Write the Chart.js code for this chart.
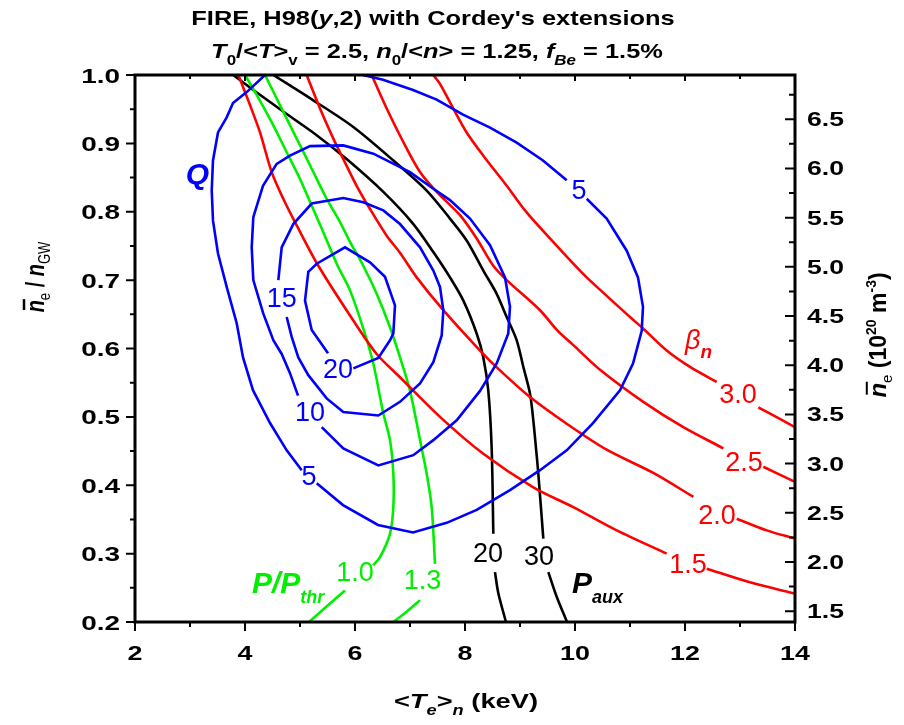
<!DOCTYPE html>
<html><head><meta charset="utf-8">
<script src="https://cdn.jsdelivr.net/npm/chart.js@4/dist/chart.umd.min.js"></script>
<style>html,body{margin:0;padding:0;background:#fff;}#wrap{width:904px;height:725px;}</style>
</head><body><div id="wrap"><canvas id="c" width="904" height="725"></canvas></div>
<script>
const FONT = "'Liberation Sans', Arial, Helvetica, sans-serif";
const BLUE = '#0000ff', RED = '#ff0000', GREEN = '#00ee00', BLACK = '#000000';

// ----- axes -----
const xMin = 2, xMax = 14;
const yMin = 0.2, yMax = 1.0;
const nGW = 6.95; // density (1e20 m^-3) at ne/nGW = 1
const xTicks = [2, 4, 6, 8, 10, 12, 14];
const yTicks = [0.2, 0.3, 0.4, 0.5, 0.6, 0.7, 0.8, 0.9, 1.0];
const y2Ticks = [1.5, 2.0, 2.5, 3.0, 3.5, 4.0, 4.5, 5.0, 5.5, 6.0, 6.5];

// ----- Q contours (x = <Te>_n keV, y = ne/nGW); null = label gap -----
const Q5 = [[6.145,1.0],[6.509,0.993],[7.055,0.978],[7.485,0.964],[7.964,0.942],[8.455,0.923],[8.94,0.901],[9.418,0.875],[9.849,0.846],null,
  [10.213,0.819],[10.576,0.790],[10.94,0.743],[11.145,0.704],[11.236,0.661],[11.213,0.626],[11.055,0.578],[10.818,0.539],[10.327,0.491],[9.849,0.451],[9.364,0.422],[8.818,0.393],[8.213,0.364],[7.667,0.345],[7.055,0.331],[6.418,0.342],[5.782,0.371],[5.304,0.403],null,
  [5.031,0.422],[4.758,0.451],[4.455,0.491],[4.145,0.539],[3.964,0.587],[3.849,0.637],[3.667,0.690],[3.509,0.739],[3.418,0.787],[3.395,0.831],[3.418,0.875],[3.509,0.916],[3.667,0.938],[3.782,0.959],[4.031,0.975],[4.364,1.0]];
const Q10 = [[4.964,0.531],[4.818,0.564],[4.667,0.592],[4.515,0.612],[4.333,0.651],[4.151,0.700],[4.122,0.748],[4.151,0.792],[4.327,0.838],[4.576,0.870],[4.818,0.882],[5.182,0.896],[5.787,0.897],[6.333,0.885],[7.0,0.858],[7.418,0.834],[7.727,0.817],[8.091,0.790],[8.455,0.751],[8.727,0.704],[8.818,0.661],[8.787,0.622],[8.576,0.578],[8.273,0.538],[7.849,0.495],[7.424,0.466],[7.06,0.444],[6.424,0.429],[5.787,0.454],[5.395,0.485]];
const Q15 = [[4.758,0.646],[4.849,0.617],[4.969,0.587],[5.151,0.561],[5.485,0.527],[5.787,0.507],[6.424,0.502],[6.818,0.522],[7.182,0.549],[7.424,0.580],[7.576,0.619],[7.606,0.656],[7.545,0.690],[7.424,0.714],[7.182,0.748],[6.818,0.782],[6.515,0.802],[6.151,0.814],[5.787,0.820],[5.213,0.812],[4.878,0.782],[4.667,0.748],[4.606,0.700]];
const Q20 = [[5.509,0.593],[5.213,0.627],[5.091,0.670],[5.151,0.712],[5.304,0.724],[5.818,0.748],[6.273,0.726],[6.545,0.705],[6.727,0.663],[6.697,0.622],[6.636,0.612],[6.424,0.586],[5.969,0.571]];

// ----- beta_n contours -----
const B15 = [[3.879,1.0],[4.091,0.956],[4.273,0.916],[4.485,0.858],[4.696,0.819],[4.94,0.780],[5.333,0.721],[5.969,0.641],[6.394,0.592],[6.818,0.558],[7.545,0.500],[8.333,0.446],[9.242,0.397],[9.969,0.368],[10.758,0.334],[11.667,0.300],null,[12.394,0.278],[13.182,0.258],[14.0,0.2415]];
const B20 = [[5.121,1.0],[5.364,0.951],[5.606,0.907],[5.788,0.877],[6.03,0.838],[6.273,0.804],[6.576,0.765],[6.818,0.740],[7.121,0.704],[7.606,0.656],[8.273,0.597],[8.636,0.568],[9.182,0.529],[9.849,0.490],[10.576,0.452],[11.424,0.418],[12.152,0.383],null,[12.94,0.351],[13.485,0.334],[14.0,0.322]];
const B25 = [[6.303,1.0],[6.576,0.951],[6.878,0.902],[7.182,0.858],[7.485,0.829],[7.909,0.795],[8.212,0.761],[8.515,0.721],[8.758,0.700],[9.364,0.656],[9.673,0.627],[9.969,0.605],[10.455,0.569],[11.242,0.522],[11.969,0.485],[12.697,0.454],null,[13.424,0.427],[14.0,0.405]];
const B30 = [[7.424,1.0],[7.545,0.987],[7.787,0.951],[8.03,0.916],[8.333,0.882],[8.758,0.838],[9.121,0.799],[9.545,0.761],[9.969,0.724],[10.212,0.704],[11.0,0.646],[11.242,0.629],[11.667,0.597],[12.091,0.573],[12.576,0.551],null,[13.333,0.514],[14.0,0.485]];

// ----- P/Pthr contours -----
const G10 = [[4.0,1.0],[4.212,0.971],[4.485,0.931],[4.758,0.887],[5.0,0.848],[5.212,0.809],[5.424,0.770],[5.667,0.724],[5.909,0.685],[6.151,0.629],[6.333,0.578],[6.515,0.505],[6.636,0.466],[6.697,0.417],[6.697,0.368],[6.636,0.329],[6.455,0.295],[6.333,0.283],null,[5.818,0.246],[5.545,0.227],[5.164,0.2]];
const G13 = [[4.364,1.0],[4.636,0.956],[4.94,0.907],[5.182,0.868],[5.485,0.819],[5.727,0.785],[5.909,0.756],[6.151,0.721],[6.394,0.680],[6.636,0.631],[6.818,0.587],[7.0,0.538],[7.212,0.454],[7.303,0.417],[7.394,0.368],[7.455,0.285],null,[7.182,0.232],[6.94,0.215],[6.697,0.2]];

// ----- Paux contours -----
const P20 = [[3.788,1.0],[4.152,0.978],[4.758,0.943],[5.303,0.912],[5.848,0.877],[6.515,0.829],[7.061,0.782],[7.424,0.741],[7.727,0.704],[7.97,0.670],[8.212,0.622],[8.333,0.587],[8.424,0.538],[8.485,0.454],[8.515,0.329],null,[8.545,0.273],[8.606,0.242],[8.745,0.2]];
const P30 = [[4.515,1.0],[5.242,0.963],[5.969,0.924],[6.697,0.875],[7.303,0.831],[7.727,0.790],[8.03,0.758],[8.333,0.714],[8.576,0.680],[8.758,0.646],[8.94,0.612],[9.061,0.573],[9.182,0.534],[9.242,0.495],[9.291,0.454],[9.333,0.417],[9.424,0.322],null,[9.515,0.273],[9.667,0.237],[9.855,0.2]];

// ----- contour labels: [text, x, y] -----
const qLabels = [['5',10.073,0.831],['5',5.164,0.413],['10',5.182,0.507],['15',4.667,0.673],['20',5.691,0.569]];
const bLabels = [['3.0',12.964,0.533],['2.5',13.073,0.433],['2.0',12.582,0.355],['1.5',12.055,0.284]];
const gLabels = [['1.0',6.0,0.273],['1.3',7.227,0.261]];
const pLabels = [['20',8.418,0.300],['30',9.345,0.295]];

const curves = [
  {pts: Q5, color: BLUE, t: 0}, {pts: Q10, color: BLUE, t: 0}, {pts: Q15, color: BLUE, t: 0}, {pts: Q20, color: BLUE, t: 0},
  {pts: B15, color: RED, t: 0.3}, {pts: B20, color: RED, t: 0.3}, {pts: B25, color: RED, t: 0.3}, {pts: B30, color: RED, t: 0.3},
  {pts: G10, color: GREEN, t: 0.3}, {pts: G13, color: GREEN, t: 0.3},
  {pts: P20, color: BLACK, t: 0.3}, {pts: P30, color: BLACK, t: 0.3}
];

function segments(arr) {
  const segs = []; let cur = [];
  for (const p of arr) {
    if (p === null) { if (cur.length) segs.push(cur); cur = []; }
    else cur.push({x: p[0], y: p[1]});
  }
  if (cur.length) segs.push(cur);
  return segs;
}
const datasets = [];
for (const c of curves) {
  for (const s of segments(c.pts)) {
    datasets.push({data: s, borderColor: c.color, borderWidth: 2.6, pointRadius: 0, showLine: true, fill: false, tension: c.t, xAxisID: 'x', yAxisID: 'y'});
  }
}

function fstr(p) { return (p.i ? 'italic ' : '') + (p.b ? 'bold ' : '') + p.s + 'px ' + FONT; }
function richWidth(ctx, parts) { let w = 0; for (const p of parts) { ctx.font = fstr(p); w += ctx.measureText(p.t).width + (p.k || 0); } return w; }
// draws rich text with baseline at y; sx = horizontal stretch, sy = vertical stretch
function drawRich(ctx, parts, x, y, align, sx, sy) {
  sx = sx || 1; sy = sy || 1;
  const w = richWidth(ctx, parts) * sx;
  const x0 = align === 'center' ? x - w / 2 : (align === 'right' ? x - w : x);
  ctx.save();
  ctx.translate(x0, y); ctx.scale(sx, sy);
  ctx.textAlign = 'left'; ctx.textBaseline = 'alphabetic';
  let cx = 0;
  for (const p of parts) {
    ctx.font = fstr(p);
    const pw = ctx.measureText(p.t).width;
    ctx.fillText(p.t, cx, p.dy || 0);
    if (p.bar) {
      ctx.save(); ctx.lineWidth = 2; ctx.strokeStyle = ctx.fillStyle;
      ctx.beginPath(); ctx.moveTo(cx + p.s * 0.12, -p.s * 0.8); ctx.lineTo(cx + pw + p.s * 0.05, -p.s * 0.8); ctx.stroke(); ctx.restore();
    }
    cx += pw + (p.k || 0);
  }
  ctx.restore();
}

const decor = {
  id: 'decor',
  afterDraw(chart) {
    const ctx = chart.ctx, a = chart.chartArea;
    const xs = chart.scales.x, ys = chart.scales.y, y2 = chart.scales.y2;
    ctx.save();
    // frame
    ctx.strokeStyle = '#000'; ctx.lineWidth = 3;
    ctx.strokeRect(a.left, a.top, a.right - a.left, a.bottom - a.top);
    // tick marks
    ctx.lineWidth = 2;
    ctx.beginPath();
    for (let v = xMin; v <= xMax + 1e-9; v += 1) {
      const px = xs.getPixelForValue(v);
      const major = Math.abs(v % 2) < 1e-9;
      ctx.moveTo(px, a.bottom); ctx.lineTo(px, a.bottom + (major ? 9 : 5));
      ctx.moveTo(px, a.top); ctx.lineTo(px, a.top + (major ? 6 : 4));
    }
    for (let i = 0; i <= 16; i++) {
      const py = ys.getPixelForValue(yMin + i * 0.05);
      ctx.moveTo(a.left, py); ctx.lineTo(a.left - (i % 2 === 0 ? 9 : 5), py);
    }
    for (let i = 0; i <= 21; i++) {
      const v = 1.5 + i * 0.25;
      if (v > y2.max + 1e-9) break;
      const py = y2.getPixelForValue(v);
      ctx.moveTo(a.right, py); ctx.lineTo(a.right - (i % 2 === 0 ? 10 : 6), py);
    }
    ctx.stroke();

    // tick labels (bold, horizontally widened like the reference)
    ctx.fillStyle = '#000';
    for (const v of xTicks) drawRich(ctx, [{t: String(v), s: 21, b: true}], xs.getPixelForValue(v), 660, 'center', 1.28, 1);
    for (const v of yTicks) drawRich(ctx, [{t: v.toFixed(1), s: 21, b: true}], a.left - 15, ys.getPixelForValue(v) + 7.5, 'right', 1.33, 1);
    for (const v of y2Ticks) drawRich(ctx, [{t: v.toFixed(1), s: 20, b: true}], a.right + 12, y2.getPixelForValue(v) + 7, 'left', 1.33, 1);

    // contour labels
    const lab = (list, color) => {
      ctx.fillStyle = color; ctx.font = '27px ' + FONT; ctx.textAlign = 'center'; ctx.textBaseline = 'middle';
      for (const [t, x, y] of list) ctx.fillText(t, xs.getPixelForValue(x), ys.getPixelForValue(y) + 1);
    };
    lab(qLabels, BLUE); lab(bLabels, RED); lab(gLabels, GREEN); lab(pLabels, BLACK);

    // family labels
    ctx.fillStyle = BLUE; ctx.font = 'italic bold 30px ' + FONT; ctx.textAlign = 'center'; ctx.textBaseline = 'middle';
    ctx.fillText('Q', xs.getPixelForValue(3.136), ys.getPixelForValue(0.853));
    ctx.fillStyle = RED;
    drawRich(ctx, [{t: 'β', s: 27, i: true}, {t: 'n', s: 19, i: true, b: true, dy: 9}], xs.getPixelForValue(12.0), ys.getPixelForValue(0.60), 'left');
    ctx.fillStyle = GREEN;
    drawRich(ctx, [{t: 'P/P', s: 30, i: true, b: true}, {t: 'thr', s: 18, i: true, b: true, dy: 10}], xs.getPixelForValue(4.127), ys.getPixelForValue(0.242), 'left');
    ctx.fillStyle = BLACK;
    drawRich(ctx, [{t: 'P', s: 30, i: true, b: true}, {t: 'aux', s: 18, i: true, b: true, dy: 10}], xs.getPixelForValue(9.945), ys.getPixelForValue(0.242), 'left');

    // titles
    ctx.fillStyle = '#000';
    drawRich(ctx, [{t: 'FIRE, H98(', s: 21, b: true}, {t: 'y', s: 21, b: true, i: true}, {t: ",2) with Cordey's extensions", s: 21, b: true}], 433, 25, 'center', 1.21, 1);
    drawRich(ctx, [
      {t: 'T', s: 21, b: true, i: true}, {t: '0', s: 14, b: true, dy: 7}, {t: '/<', s: 21, b: true}, {t: 'T', s: 21, b: true, i: true},
      {t: '>', s: 21, b: true}, {t: 'v', s: 14, b: true, dy: 7}, {t: ' = 2.5, ', s: 21, b: true},
      {t: 'n', s: 21, b: true, i: true}, {t: '0', s: 14, b: true, dy: 7}, {t: '/<', s: 21, b: true}, {t: 'n', s: 21, b: true, i: true},
      {t: '> = 1.25, ', s: 21, b: true}, {t: 'f', s: 21, b: true, i: true}, {t: 'Be', s: 14, b: true, i: true, dy: 7}, {t: ' = 1.5%', s: 21, b: true}
    ], 437, 58, 'center', 1.21, 1);
    // x title
    drawRich(ctx, [{t: '<', s: 21, b: true}, {t: 'T', s: 21, b: true, i: true}, {t: 'e', s: 14, b: true, i: true, dy: 7}, {t: '>', s: 21, b: true},
      {t: 'n', s: 14, b: true, i: true, dy: 7}, {t: ' (keV)', s: 21, b: true}], 466, 708, 'center', 1.3, 1);
    // left y title (rotated)
    ctx.save(); ctx.translate(44, 277); ctx.rotate(-Math.PI / 2);
    drawRich(ctx, [{t: 'n', s: 20, b: true, i: true, bar: true}, {t: 'e', s: 13, dy: 5}, {t: ' / ', s: 20, b: true}, {t: 'n', s: 20, b: true, i: true}, {t: 'GW', s: 13, dy: 5}], 0, 0, 'center', 1, 1.25);
    ctx.restore();
    // right y title (rotated)
    ctx.save(); ctx.translate(886, 335); ctx.rotate(-Math.PI / 2);
    drawRich(ctx, [{t: 'n', s: 24, b: true, i: true, bar: true}, {t: 'e', s: 15, dy: 6}, {t: ' (10', s: 23, b: true}, {t: '20', s: 14, b: true, dy: -10},
      {t: ' m', s: 23, b: true}, {t: '-3', s: 14, b: true, dy: -10}, {t: ')', s: 23, b: true}], 0, 0, 'center');
    ctx.restore();
    ctx.restore();
  }
};

new Chart(document.getElementById('c'), {
  type: 'scatter',
  data: {datasets},
  options: {
    responsive: false, animation: false, devicePixelRatio: 1, events: [],
    layout: {padding: {top: 75, left: 0, right: 0, bottom: 0}},
    plugins: {legend: {display: false}, tooltip: {enabled: false}, title: {display: false}},
    scales: {
      x: {type: 'linear', position: 'bottom', min: xMin, max: xMax,
        afterBuildTicks: s => { s.ticks = xTicks.map(v => ({value: v})); },
        ticks: {display: false},
        grid: {display: false, drawTicks: false}, border: {display: false},
        afterFit: s => { s.height = 103; }},
      y: {type: 'linear', position: 'left', min: yMin, max: yMax,
        afterBuildTicks: s => { s.ticks = yTicks.map(v => ({value: v})); },
        ticks: {display: false},
        grid: {display: false, drawTicks: false}, border: {display: false},
        afterFit: s => { s.width = 135; }},
      y2: {type: 'linear', position: 'right', min: yMin * nGW, max: yMax * nGW,
        afterBuildTicks: s => { s.ticks = y2Ticks.map(v => ({value: v})); },
        ticks: {display: false},
        grid: {display: false, drawTicks: false}, border: {display: false},
        afterFit: s => { s.width = 109; }}
    }
  },
  plugins: [decor]
});
</script>
</body></html>
